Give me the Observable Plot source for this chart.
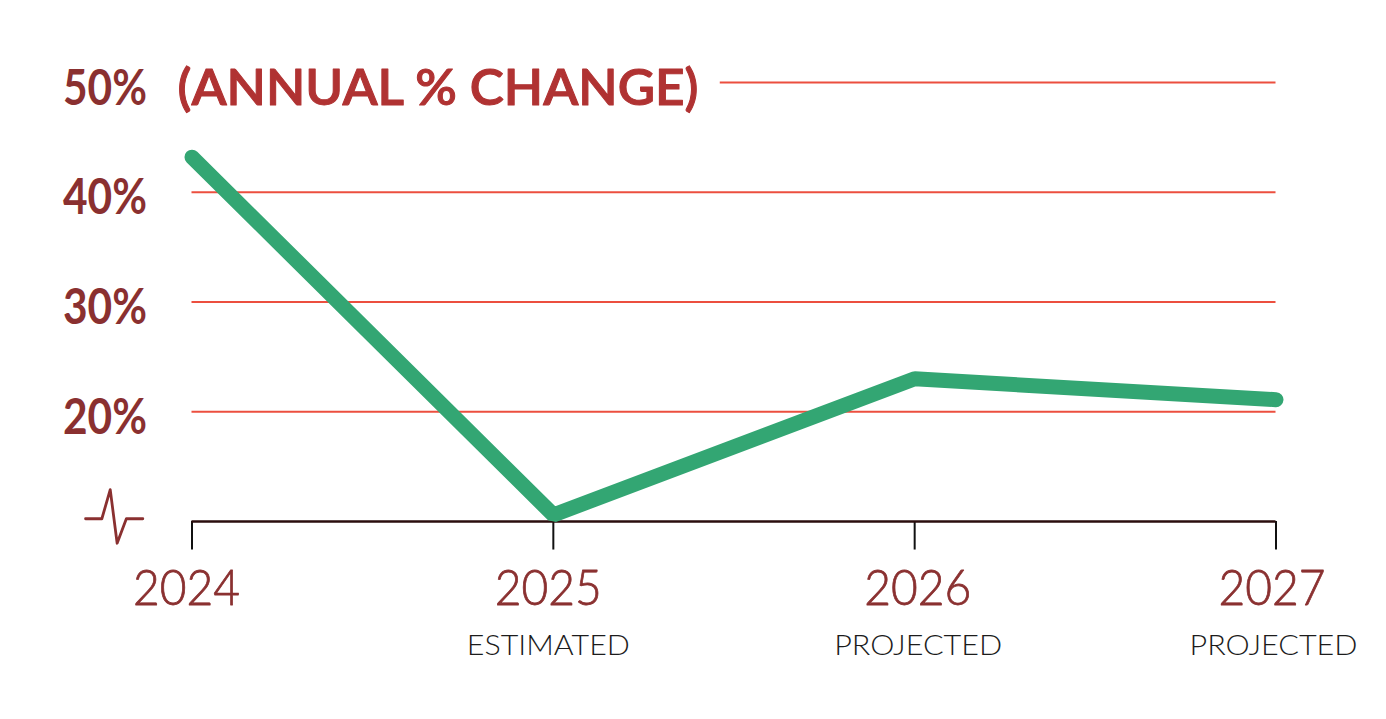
<!DOCTYPE html>
<html><head><meta charset="utf-8">
<script src="https://cdn.jsdelivr.net/npm/d3@7"></script>
<script src="https://cdn.jsdelivr.net/npm/@observablehq/plot@0.6"></script>
<style>html,body{margin:0;padding:0;background:#fff}svg{display:block}</style>
</head><body><div id="chart"></div>
<script>
const years = [2024, 2025, 2026, 2027];
const changes = [43.2, 10.6, 23.0, 21.1];
const gridValues = [20, 30, 40, 50];
const yLabels = ["20%", "30%", "40%", "50%"];
const yearLabels = ["2024", "2025", "2026", "2027"];
const yearNudges = [-5.5, -5, 3, -4];
const notes = ["", "ESTIMATED", "PROJECTED", "PROJECTED"];
const noteNudges = [0, -5, 3.5, -2.5];
const titleText = "(ANNUAL % CHANGE)";
const breakX = [2023.7054, 2023.7505, 2023.7737, 2023.7928, 2023.8183, 2023.8639];
const breakY = [10.25, 10.25, 12.9, 8.02, 10.25, 10.25];

const FONT = "Lato";
const maroon = "#8a3030", red = "#b03232", gridRed = "#ec4f3f", green = "#33a673";
const data = years.map((year, i) => ({year, change: changes[i]}));
const grid = gridValues.map((v, i) => ({v, label: yLabels[i]}));
const brk = breakX.map((x, i) => ({x, y: breakY[i]}));

const plot = Plot.plot({
  width: 1386, height: 719,
  marginLeft: 191.5, marginRight: 110.5, marginTop: 82, marginBottom: 198,
  x: {type: "linear", domain: [2024, 2027], axis: null},
  y: {type: "linear", domain: [10, 50], axis: null},
  style: {fontFamily: FONT, background: "#fff"},
  marks: [
    Plot.ruleY(grid.filter(d => d.v < 50), {y: "v", x1: 2024, x2: 2027, stroke: gridRed, strokeWidth: 2}),
    Plot.ruleY(grid.filter(d => d.v === 50), {y: "v", x1: 2025.462, x2: 2027, stroke: gridRed, strokeWidth: 2}),
    Plot.ruleX(years, {x: d => d, y1: 10, y2: 7.4, stroke: "#111", strokeWidth: 2}),
    Plot.ruleY([10], {x1: 2024, x2: 2027, stroke: "#2a0d0d", strokeWidth: 2.4}),
    Plot.line(data, {x: "year", y: "change", stroke: green, strokeWidth: 15, strokeLinecap: "round", strokeLinejoin: "miter"}),
    Plot.line(brk, {x: "x", y: "y", stroke: maroon, strokeWidth: 2.8, strokeLinecap: "round", strokeLinejoin: "round"}),
    Plot.text(grid, {x: () => 2024, y: "v", text: "label", textAnchor: "end", dx: -45, dy: 6, fill: maroon, fontSize: 50, fontWeight: 700, className: "ylab"}),
    Plot.text([titleText], {x: () => 2024, y: () => 50, textAnchor: "start", dx: -14.5, dy: 6, fill: red, stroke: red, strokeWidth: 1, fontSize: 50, fontWeight: 600, className: "title"}),
    ...yearLabels.map((t, i) => Plot.text([t], {x: () => years[i], y: () => 10, dx: yearNudges[i], dy: 67, fill: maroon, stroke: maroon, strokeWidth: 0.8, fontSize: 50, fontWeight: 300, className: "yr"})),
    ...notes.map((t, i) => t ? Plot.text([t], {x: () => years[i], y: () => 10, dx: noteNudges[i], dy: 124.5, fill: "#1c1c1c", fontSize: 28, fontWeight: 300, className: "note"}) : null).filter(Boolean)
  ]
});
document.getElementById("chart").append(plot);
const fit = (cls, w) => plot.querySelectorAll(`.${cls} text`).forEach(t => {
  t.setAttribute("textLength", typeof w === "function" ? w(t.textContent) : w);
  t.setAttribute("lengthAdjust", "spacingAndGlyphs");
});
fit("ylab", 84); fit("title", 521); fit("yr", 107);
fit("note", s => s === "ESTIMATED" ? 163 : 168);
</script></body></html>
